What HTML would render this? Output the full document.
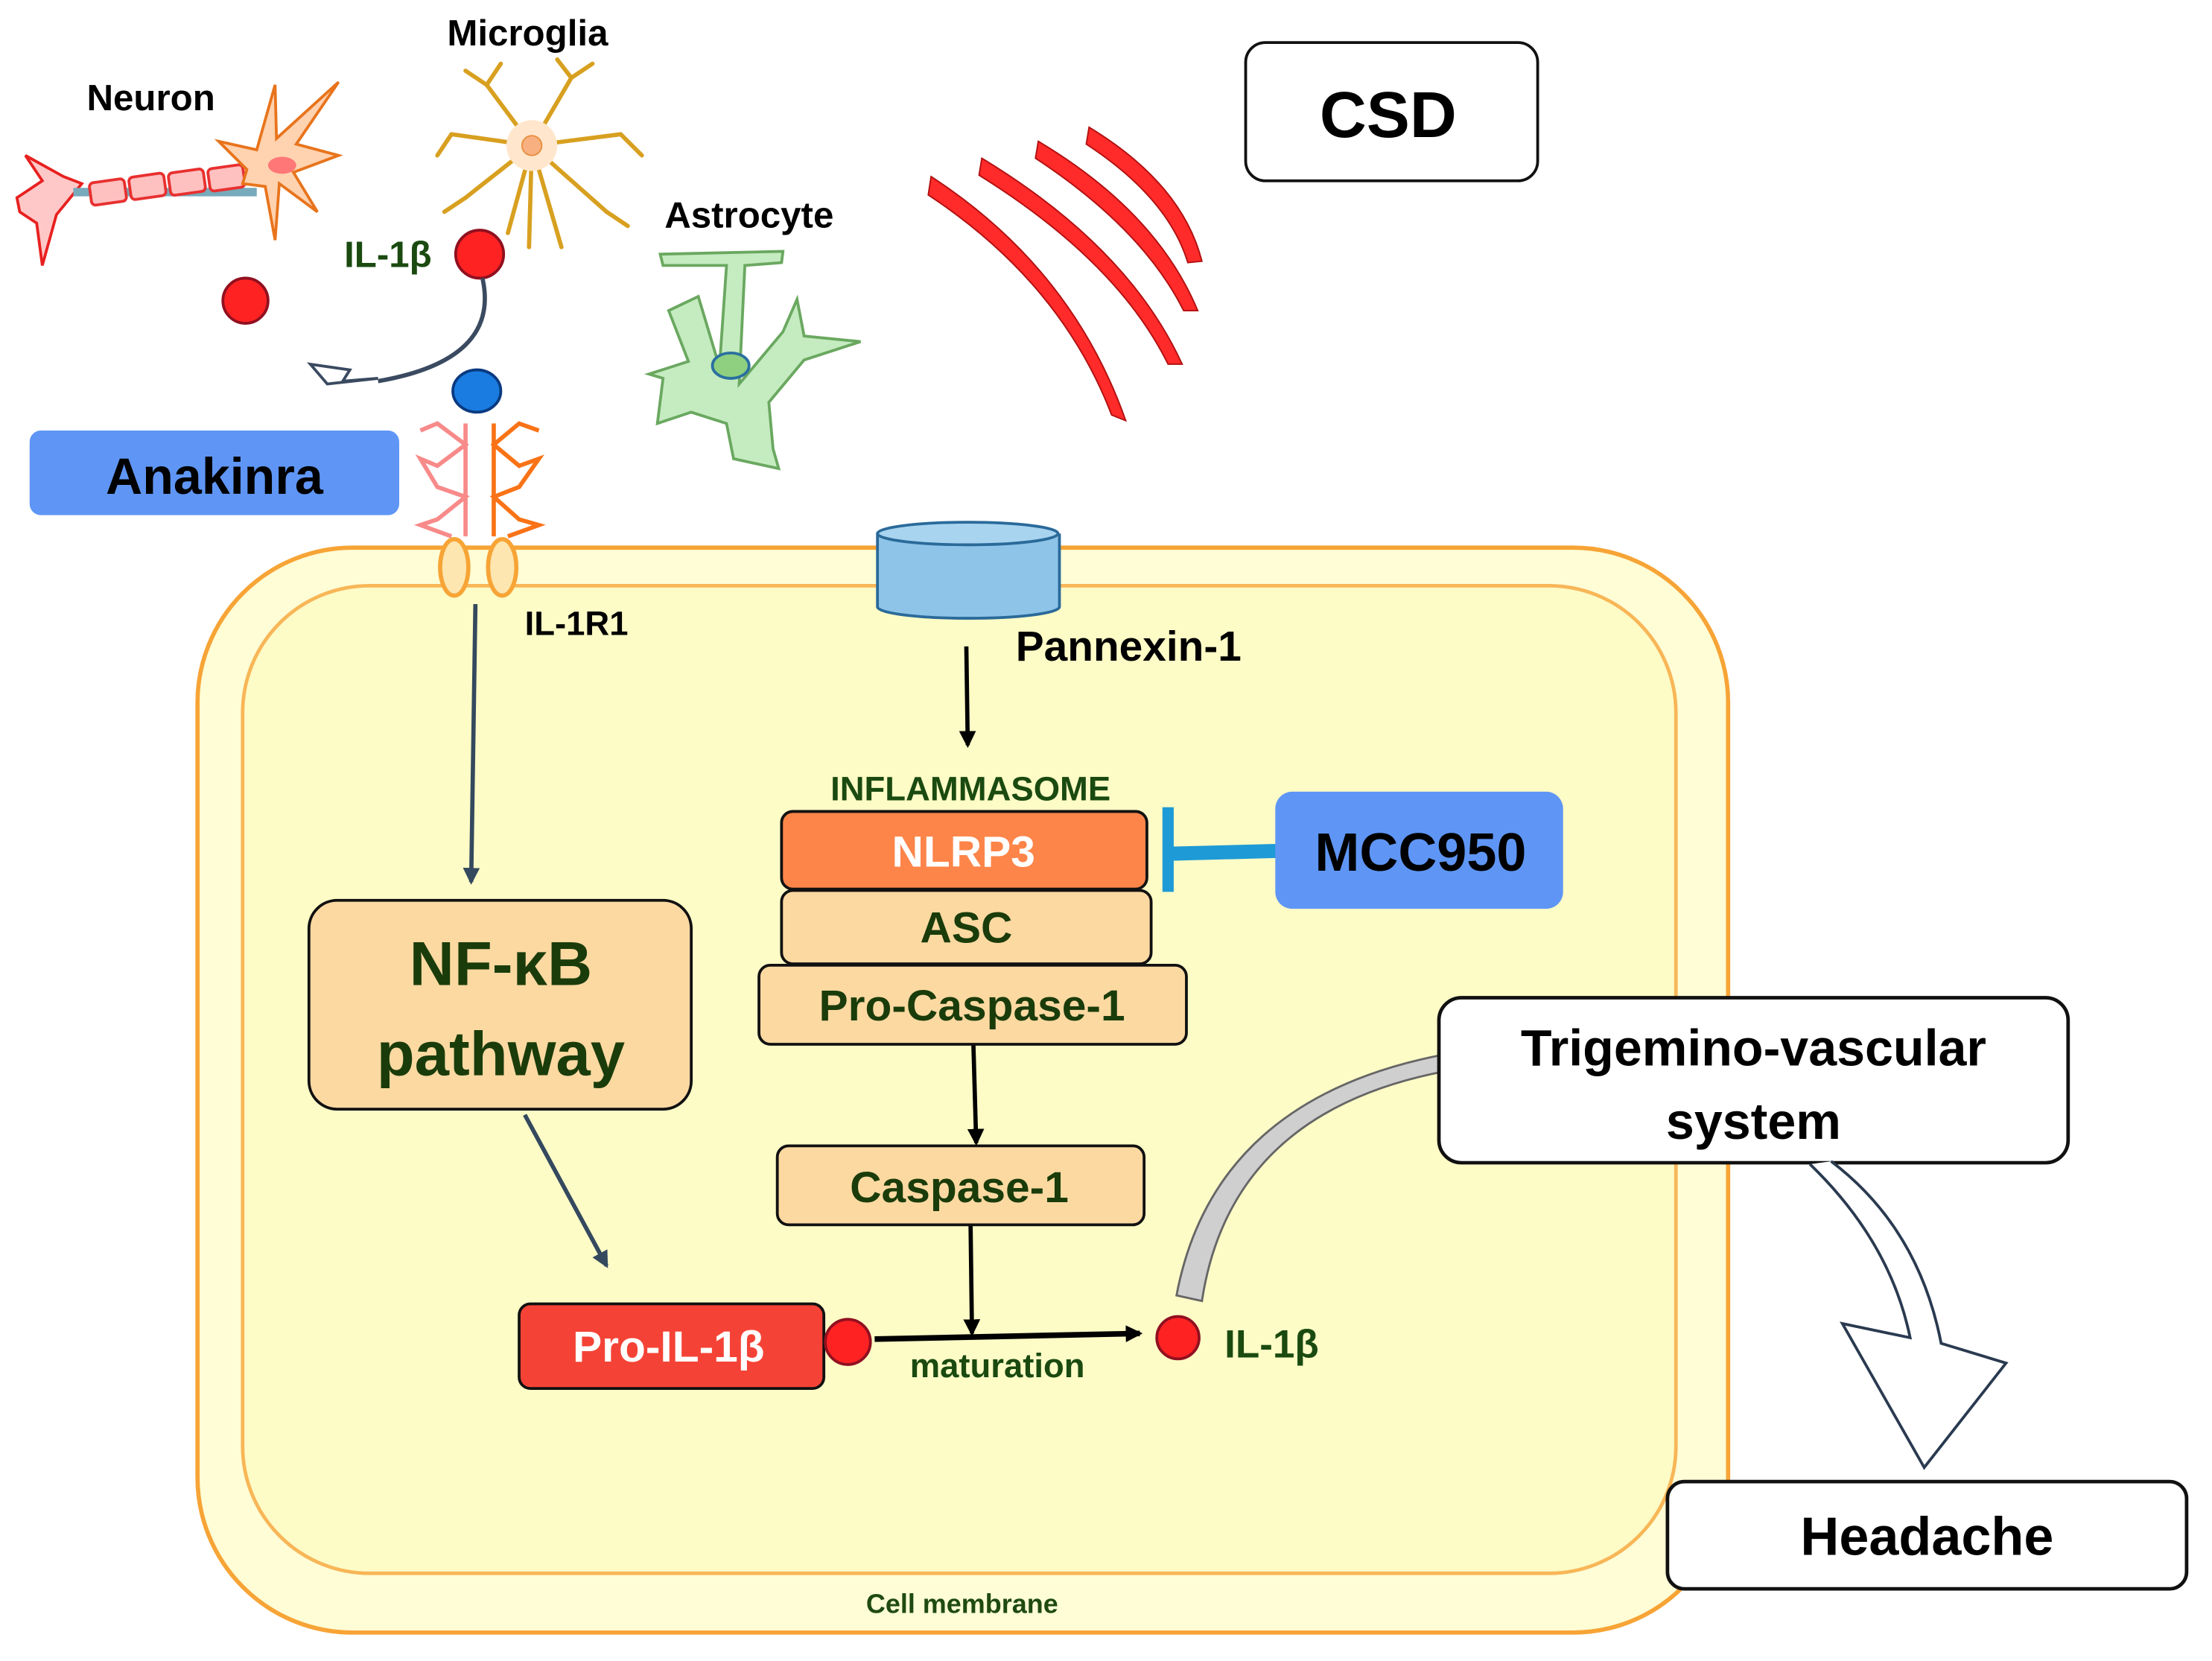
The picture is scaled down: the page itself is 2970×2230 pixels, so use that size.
<!DOCTYPE html>
<html><head><meta charset="utf-8"><style>
html,body{margin:0;padding:0;background:#fff;}
svg{display:block;}
text{font-family:"Liberation Sans",sans-serif;font-weight:bold;}
</style></head><body>
<svg width="2970" height="2230" viewBox="0 0 1568 1177" xmlns="http://www.w3.org/2000/svg">
<defs>
<marker id="ab" markerWidth="8" markerHeight="8" refX="6" refY="4" orient="auto" markerUnits="userSpaceOnUse"><path d="M0,0 L8,4 L0,8 z" fill="#000"/></marker>
<marker id="as" markerWidth="12" markerHeight="12" refX="10" refY="6" orient="auto" markerUnits="userSpaceOnUse"><path d="M0,0 L12,6 L0,12 z" fill="#34495e"/></marker>
<marker id="ak" markerWidth="12" markerHeight="12" refX="10" refY="6" orient="auto" markerUnits="userSpaceOnUse"><path d="M0,0 L12,6 L0,12 z" fill="#000"/></marker>
</defs>
<!-- cell -->
<rect x="140" y="388" width="1085" height="769" rx="110" fill="#fefdd6" stroke="#f7a436" stroke-width="3"/>
<rect x="172" y="415" width="1016" height="700" rx="90" fill="#fdfbc6" stroke="#f8b657" stroke-width="2.5"/>
<text x="682" y="1143" font-size="19" fill="#1f4a10" text-anchor="middle">Cell membrane</text>

<!-- CSD -->
<rect x="883" y="30" width="207" height="98" rx="14" fill="#fff" stroke="#111" stroke-width="2"/>
<text x="984" y="97" font-size="46" fill="#000" text-anchor="middle">CSD</text>
<g fill="#ff2a2a" stroke="#b01010" stroke-width="1">
<path d="M660,125 Q760,190 798,298 L788,294 Q752,200 658,138 Z"/>
<path d="M696,112 Q800,175 838,258 L828,258 Q792,185 694,124 Z"/>
<path d="M736,100 Q820,150 849,220 L839,220 Q810,162 734,112 Z"/>
<path d="M772,90 Q838,130 852,185 L842,186 Q828,140 770,102 Z"/>
</g>

<!-- Neuron -->
<g>
<path d="M12,140 L30,128 L18,110 L45,125 L58,130 L40,152 L30,188 L26,158 L14,150 Z" fill="#ffc8c8" stroke="#e82020" stroke-width="2"/>
<rect x="52" y="133" width="130" height="6" fill="#7ab" />
<g fill="#ffc0c0" stroke="#e83030" stroke-width="2">
<rect x="64" y="128" width="25" height="16" rx="3" transform="rotate(-8 76 136)"/>
<rect x="92" y="124" width="25" height="16" rx="3" transform="rotate(-8 104 132)"/>
<rect x="120" y="121" width="25" height="16" rx="3" transform="rotate(-8 132 129)"/>
<rect x="148" y="118" width="25" height="16" rx="3" transform="rotate(-8 160 126)"/>
</g>
<path d="M175,120 L155,100 L182,106 L195,60 L196,98 L240,58 L210,102 L240,110 L208,122 L225,150 L198,130 L195,170 L188,132 L172,130 Z" fill="#ffd2b0" stroke="#e8741c" stroke-width="2"/>
<ellipse cx="200" cy="117" rx="10" ry="6" fill="#f77"/>
<text x="107" y="78" font-size="26" fill="#000" text-anchor="middle">Neuron</text>
</g>
<!-- Microglia -->
<g stroke="#d8a020" stroke-width="3" fill="none" stroke-linecap="round">
<path d="M377,103 L345,60 M377,103 L405,55 M377,103 L320,95 M377,103 L440,95 M377,103 L330,140 M377,103 L430,150 M377,103 L375,175 M377,103 L398,175 M377,103 L360,165"/>
<path d="M345,60 L330,50 M345,60 L355,45 M405,55 L420,45 M405,55 L395,42 M320,95 L310,110 M440,95 L455,110 M330,140 L315,150 M430,150 L445,160"/>
</g>
<circle cx="377" cy="103" r="18" fill="#ffe6cc"/>
<circle cx="377" cy="103" r="7" fill="#f8b080" stroke="#e89040"/>
<text x="374" y="32" font-size="26" fill="#000" text-anchor="middle">Microglia</text>
<!-- Astrocyte -->
<path d="M468,180 L555,178 L554,186 L528,188 L524,272 L555,235 L565,212 L570,238 L610,242 L570,255 L545,285 L548,318 L552,332 L520,325 L515,300 L490,292 L466,300 L470,268 L460,265 L488,256 L474,220 L495,210 L510,260 L515,188 L470,188 Z" fill="#c5ebc0" stroke="#6aa860" stroke-width="2"/>
<ellipse cx="518" cy="259" rx="13" ry="9" fill="#8fd080" stroke="#2a70a0" stroke-width="2"/>
<text x="531" y="161" font-size="26" fill="#000" text-anchor="middle">Astrocyte</text>

<!-- IL-1b outside -->
<circle cx="174" cy="213" r="16" fill="#f22" stroke="#901020" stroke-width="2"/>
<circle cx="340" cy="180" r="17" fill="#f22" stroke="#901020" stroke-width="2"/>
<text x="275" y="189" font-size="26" fill="#1a4a10" text-anchor="middle">IL-1β</text>
<path d="M342,197 Q355,255 268,270" fill="none" stroke="#3a4a60" stroke-width="3"/>
<path d="M220,258 L248,262 L243,270 L268,268 L232,272 Z" fill="#fff" stroke="#3a4a60" stroke-width="2"/>
<ellipse cx="338" cy="277" rx="17" ry="15" fill="#1a7ce0" stroke="#0a3a80" stroke-width="2"/>
<!-- receptor -->
<g fill="none" stroke-width="3">
<path d="M330,300 L330,380 M298,305 L310,300 L330,315 L310,330 L298,325 L310,345 L330,352 L310,368 L298,372 L320,380" stroke="#f88a8a"/>
<path d="M350,300 L350,380 M382,305 L368,300 L350,315 L368,330 L382,325 L368,345 L350,352 L368,368 L382,372 L360,380" stroke="#f97316"/>
</g>
<ellipse cx="322" cy="402" rx="10" ry="20" fill="#fde6b0" stroke="#f7a436" stroke-width="3"/>
<ellipse cx="356" cy="402" rx="10" ry="20" fill="#fde6b0" stroke="#f7a436" stroke-width="3"/>
<text x="372" y="450" font-size="24" fill="#000">IL-1R1</text>

<!-- Anakinra -->
<rect x="21" y="305" width="262" height="60" rx="8" fill="#5f96f5"/>
<text x="152" y="350" font-size="36" fill="#000" text-anchor="middle">Anakinra</text>

<!-- Pannexin -->
<path d="M622,378 L622,430 A64,8 0 0 0 751,430 L751,378" fill="#8ec4e8" stroke="#2a6a9a" stroke-width="2"/>
<ellipse cx="686" cy="378" rx="64" ry="8" fill="#a8d4f0" stroke="#2a6a9a" stroke-width="2"/>
<text x="720" y="468" font-size="30" fill="#000">Pannexin-1</text>

<!-- arrows -->
<line x1="337" y1="428" x2="334" y2="625" stroke="#34495e" stroke-width="3" marker-end="url(#as)"/>
<line x1="372" y1="790" x2="430" y2="897" stroke="#34495e" stroke-width="3" marker-end="url(#as)"/>
<line x1="685" y1="458" x2="686" y2="528" stroke="#000" stroke-width="3" marker-end="url(#ak)"/>
<line x1="690" y1="740" x2="692" y2="810" stroke="#000" stroke-width="3" marker-end="url(#ak)"/>
<line x1="688" y1="868" x2="689" y2="945" stroke="#000" stroke-width="3" marker-end="url(#ak)"/>
<line x1="620" y1="949" x2="808" y2="945" stroke="#000" stroke-width="4" marker-end="url(#ak)"/>

<!-- Inflammasome -->
<text x="688" y="567" font-size="24" fill="#1a4a10" text-anchor="middle">INFLAMMASOME</text>
<rect x="554" y="575" width="259" height="55" rx="8" fill="#fd8549" stroke="#111" stroke-width="2"/>
<text x="683" y="614" font-size="31" fill="#fff" text-anchor="middle">NLRP3</text>
<rect x="554" y="631" width="262" height="52" rx="8" fill="#fdd9a2" stroke="#111" stroke-width="2"/>
<text x="685" y="668" font-size="31" fill="#1a3c0a" text-anchor="middle">ASC</text>
<rect x="538" y="684" width="303" height="56" rx="8" fill="#fdd9a2" stroke="#111" stroke-width="2"/>
<text x="689" y="723" font-size="31" fill="#1a3c0a" text-anchor="middle">Pro-Caspase-1</text>
<rect x="551" y="812" width="260" height="56" rx="8" fill="#fdd9a2" stroke="#111" stroke-width="2"/>
<text x="680" y="852" font-size="31" fill="#1a3c0a" text-anchor="middle">Caspase-1</text>

<!-- MCC950 -->
<line x1="905" y1="603" x2="828" y2="605" stroke="#1e9ad6" stroke-width="10"/>
<line x1="828" y1="572" x2="828" y2="632" stroke="#1e9ad6" stroke-width="8"/>
<rect x="904" y="561" width="204" height="83" rx="12" fill="#5f96f5"/>
<text x="1007" y="617" font-size="38" fill="#000" text-anchor="middle">MCC950</text>

<!-- NF-kB -->
<rect x="219" y="638" width="271" height="148" rx="20" fill="#fdd9a2" stroke="#111" stroke-width="2"/>
<text x="355" y="698" font-size="44" fill="#1a3c0a" text-anchor="middle">NF-κB</text>
<text x="355" y="762" font-size="44" fill="#1a3c0a" text-anchor="middle">pathway</text>

<!-- Pro-IL-1b -->
<rect x="368" y="924" width="216" height="60" rx="8" fill="#f44336" stroke="#111" stroke-width="2"/>
<text x="474" y="965" font-size="31" fill="#fff" text-anchor="middle">Pro-IL-1β</text>
<circle cx="601" cy="951" r="16" fill="#f22" stroke="#901020" stroke-width="2"/>
<text x="707" y="976" font-size="24" fill="#1a4a10" text-anchor="middle">maturation</text>
<circle cx="835" cy="948" r="15" fill="#f22" stroke="#901020" stroke-width="2"/>
<text x="868" y="962" font-size="28" fill="#1a4a10">IL-1β</text>

<!-- grey band -->
<path d="M834,918 Q860,780 1020,748 L1020,760 Q872,790 852,922 Z" fill="#cfcfcf" stroke="#666" stroke-width="1.5"/>

<!-- Trigemino -->
<rect x="1020" y="707" width="446" height="117" rx="16" fill="#fff" stroke="#111" stroke-width="2.5"/>
<text x="1243" y="755" font-size="36" fill="#000" text-anchor="middle">Trigemino-vascular</text>
<text x="1243" y="807" font-size="36" fill="#000" text-anchor="middle">system</text>

<!-- hollow arrow -->
<path d="M1283,825 Q1340,880 1354,948 L1306,938 L1364,1040 L1422,966 L1376,952 Q1360,870 1298,823" fill="#fff" stroke="#2a3a50" stroke-width="2"/>

<!-- Headache -->
<rect x="1182" y="1050" width="368" height="76" rx="12" fill="#fff" stroke="#111" stroke-width="2.5"/>
<text x="1366" y="1102" font-size="38" fill="#000" text-anchor="middle">Headache</text>
</svg>
</body></html>
